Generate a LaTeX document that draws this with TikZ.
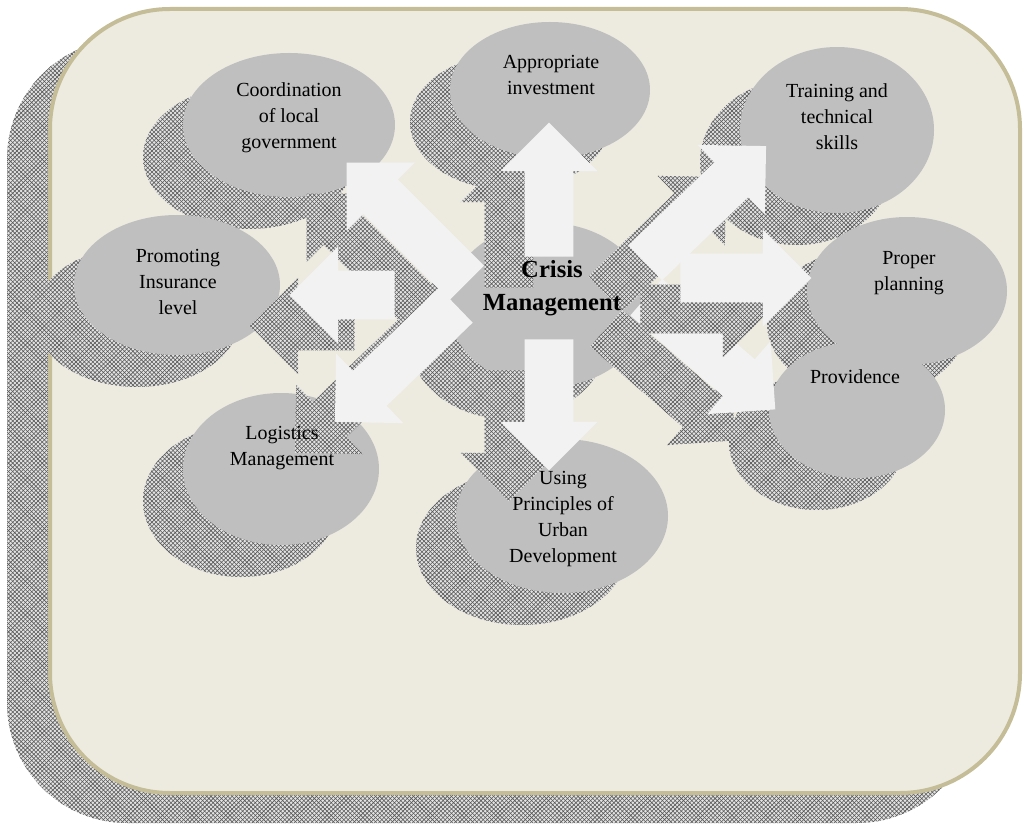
\documentclass[tikz,border=0pt]{standalone}
\usepackage{fontspec}
\setmainfont{Liberation Serif}
\usetikzlibrary{shapes.geometric,shapes.arrows,patterns}

\newcommand{\pxu}{0.025cm}
\definecolor{paper}{HTML}{EDEBE0}
\definecolor{rim}{HTML}{C4BD97}
\definecolor{ellgray}{HTML}{BFBFBF}
\definecolor{arrowwhite}{HTML}{F2F2F2}

\begin{document}
\begin{tikzpicture}[x=\pxu, y=-\pxu,
	hatch/.style={preaction={fill=gray!22}, pattern=crosshatch, pattern color=black!65},
	blob/.style 2 args={ellipse, inner sep=0, fill=ellgray, minimum width=#1*\pxu, minimum height=#2*\pxu},
	blobshadow/.style 2 args={ellipse, inner sep=0, hatch, minimum width=#1*\pxu, minimum height=#2*\pxu, shift={(-40,32)}},
	lbl/.style={align=center, inner sep=0, font=\fontsize{14.2}{18.5}\selectfont},
	bigarrow/.style={single arrow, single arrow head extend=0.6cm, inner xsep=0, inner ysep=0.6cm, anchor=tail, fill=arrowwhite, minimum height=#1*\pxu},
	arrowshadow/.style={bigarrow=#1, fill=none, hatch, shift={(-40,31)}}]

	\useasboundingbox (0,0) rectangle (1032,826);

	\fill[hatch, rounded corners=3cm] (7,39) rectangle (977,823); % frame shadow
	\draw[fill=paper, draw=rim, line width=0.1cm, rounded corners=3cm] (50,9) rectangle (1020,793); % frame

	% outer ellipses
	\node[blobshadow={212}{144}] (coordS) at (289,125) {};
	\node[blob={212}{144}] (coord) at (289,125) {};

	\node[blobshadow={200}{136}] (investS) at (550,90) {};
	\node[blob={200}{136}] (invest) at (550,90) {};

	\node[blobshadow={194}{166}] (trainS) at (837,130) {};
	\node[blob={194}{166}] (train) at (837,130) {};

	\node[blobshadow={200}{148}] (planS) at (907,291) {};
	\node[blob={200}{148}] (plan) at (907,291) {};

	\node[blobshadow={176}{136}] (provS) at (857,410) {};
	\node[blob={176}{136}] (prov) at (857,410) {};

	\node[blobshadow={212}{154}] (urbanS) at (562,516) {};
	\node[blob={212}{154}] (urban) at (562,516) {};

	\node[blobshadow={196}{152}] (logS) at (281,469) {};
	\node[blob={196}{152}] (log) at (281,469) {};

	\node[blobshadow={206}{140}] (insS) at (177,285) {};
	\node[blob={206}{140}] (ins) at (177,285) {};

	% centre
	\node[blobshadow={200}{164}] (crisisS) at (548,305) {};
	\node[blob={200}{164}] (crisis) at (548,305) {};

	% block arrows
	\node[arrowshadow=134, rotate=90] (toInvestS) at (549,257) {};
	\node[bigarrow=134, rotate=90] (toInvest) at (549,257) {};
	\node[arrowshadow=131, rotate=-90] (toUrbanS) at (549,339) {};
	\node[bigarrow=131, rotate=-90] (toUrban) at (549,339) {};
	\node[arrowshadow=168, rotate=44] (toTrainS) at (645,263) {};
	\node[bigarrow=168, rotate=44] (toTrain) at (645,263) {};
	\node[arrowshadow=171, rotate=-41] (toProvS) at (646,297) {};
	\node[bigarrow=171, rotate=-41] (toProv) at (646,297) {};
	\node[arrowshadow=131, rotate=0] (toPlanS) at (680,278) {};
	\node[bigarrow=131, rotate=0] (toPlan) at (680,278) {};
	\node[arrowshadow=170, rotate=135] (toCoordS) at (467,283) {};
	\node[bigarrow=170, rotate=135] (toCoord) at (467,283) {};
	\node[arrowshadow=168, rotate=224] (toLogS) at (456,305) {};
	\node[bigarrow=168, rotate=224] (toLog) at (456,305) {};
	\node[arrowshadow=105, rotate=180] (toInsS) at (395,295) {};
	\node[bigarrow=105, rotate=180] (toIns) at (395,295) {};

	% texts
	\node[lbl] (coordTxt) at (289,118) {Coordination\\of local\\government};
	\node[lbl] (investTxt) at (551,75) {Appropriate\\investment};
	\node[lbl] (trainTxt) at (837,117) {Training and\\technical\\skills};
	\node[lbl] (planTxt) at (909,273) {Proper\\planning};
	\node[lbl] (provTxt) at (855,377) {Providence};
	\node[lbl] (urbanTxt) at (563,519) {Using\\Principles of\\Urban\\Development};
	\node[lbl] (logTxt) at (282,448) {Logistics\\Management};
	\node[lbl] (insTxt) at (178,282) {Promoting\\Insurance\\level};
	\node[align=center, inner sep=0, font=\bfseries\fontsize{17.5}{23.5}\selectfont] (crisisTxt) at (552,288) {Crisis\\Management};
\end{tikzpicture}
\end{document}
